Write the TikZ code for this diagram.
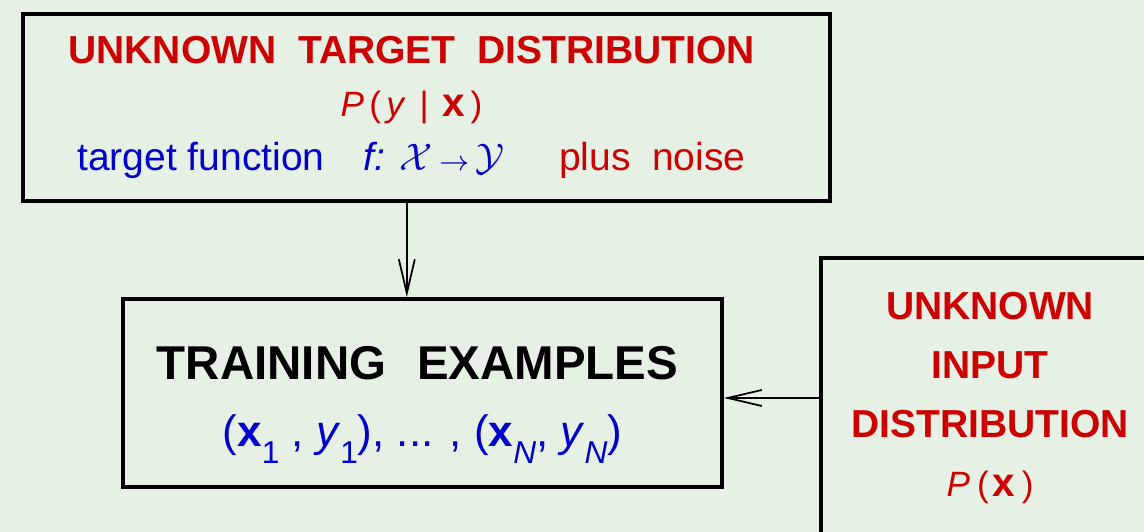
\documentclass[tikz,border=0pt]{standalone}
\usepackage{fontspec}
\setmainfont{Liberation Sans}
\usetikzlibrary{arrows.meta,calc}
\definecolor{bgcol}{RGB}{230,240,228}
\definecolor{darkred}{RGB}{204,0,0}
\definecolor{darkblue}{RGB}{0,0,204}
\tikzset{
  box/.style={draw, line width=1.1pt, align=center, inner sep=0pt},
  flow/.style={-{Straight Barb[length=3.4mm,width=1.6mm]}, line width=0.5pt},
}
\newcommand{\lowsub}[1]{\raisebox{-5pt}{\fontsize{9}{9}\selectfont #1}}
\newcommand{\bigx}{{\fontsize{11.5}{11}\selectfont\textbf{x}}}

\begin{document}
\begin{tikzpicture}
\useasboundingbox (0,0) rectangle (11.44,5.32);
\fill[bgcol] (0,0) rectangle (11.44,5.32);
\clip (0,0) rectangle (11.44,5.32);
% the three boxes
\node[box, minimum width=8.07cm, minimum height=1.87cm, font=\fontsize{11.1}{15}\selectfont] (target) at (4.265,4.245)
{\textcolor{darkred}{\textbf{UNKNOWN\ \ TARGET\ \ DISTRIBUTION}}\hspace*{3mm}\\
 \textcolor{darkred}{\fontsize{10}{11}\selectfont\textit{P}\hspace{1.5pt}(\hspace{1.5pt}\textit{y}\hspace{4pt}|\hspace{4pt}\bigx\hspace{1.5pt})}\hspace*{3mm}\mbox{}\\[0.6pt]
 \textcolor{darkblue}{target function\hspace{1em}\textit{f:} $\mathcal{X}\,{\scriptstyle\rightarrow}\,\mathcal{Y}$}\hspace{1.4em}\textcolor{darkred}{plus\ \ noise}\hspace*{3mm}};
\node[box, minimum width=5.99cm, minimum height=1.88cm, font=\fontsize{12.5}{19}\selectfont] (train) at (4.225,1.39)
{\rule{0pt}{16.4pt}{\fontsize{13.5}{16}\selectfont\textbf{TRAINING\hspace{0.65em}EXAMPLES}}\hspace*{1mm}\\
 \textcolor{darkblue}{(\textbf{x}\lowsub{1} , \textit{y}\lowsub{1}), ... , (\textbf{x}\lowsub{\textit{N}}, \textit{y}\lowsub{\textit{N}})}};
\node[box, minimum width=3.38cm, minimum height=2.8cm, text=darkred, font=\fontsize{11.1}{16.8}\selectfont] (input) at (9.90,1.34)
{\textbf{UNKNOWN}\\ \textbf{INPUT}\\ \textbf{DISTRIBUTION}\\
 {\fontsize{10}{11}\selectfont\textit{P}\hspace{2pt}(\hspace{1pt}\bigx\hspace{2pt})}};
% connectors
\coordinate (drop) at ($(train.north west)!0.474!(train.north east)$);
\draw[flow] (drop |- target.south) -- (drop);
\draw[flow] (input.west) -- (input.west -| train.east);
\end{tikzpicture}
\end{document}
